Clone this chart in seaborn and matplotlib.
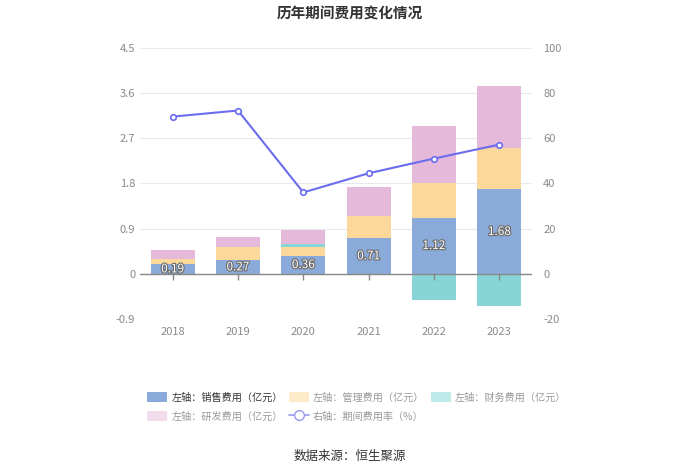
import numpy as np
import pandas as pd
import matplotlib
matplotlib.use("Agg")
import matplotlib.pyplot as plt
import matplotlib.patheffects as pe
from matplotlib.patches import Patch
from matplotlib.lines import Line2D
import seaborn as sns

# data
years = ["2018", "2019", "2020", "2021", "2022", "2023"]
sales = [0.19, 0.27, 0.36, 0.71, 1.12, 1.68]
admin = [0.10, 0.26, 0.18, 0.44, 0.69, 0.83]
finance = [0.01, 0.0, 0.05, 0.0, -0.53, -0.64]
rnd = [0.17, 0.21, 0.28, 0.58, 1.14, 1.24]
rate = [69.6, 72.3, 36.0, 44.5, 51.0, 57.2]

left_ticks = [-0.9, 0, 0.9, 1.8, 2.7, 3.6, 4.5]
left_labels = ["-0.9", "0", "0.9", "1.8", "2.7", "3.6", "4.5"]
right_ticks = [-20, 0, 20, 40, 60, 80, 100]

c_sales = "#8aaad9"
c_admin = "#fdd89b"
c_fin = "#87d5d6"
c_rnd = "#e5b9d9"
c_line = "#6b6cee"

sns.set_style("white")
plt.rcParams["font.family"] = ["Noto Sans CJK SC", "DejaVu Sans"]
plt.rcParams["axes.unicode_minus"] = False

df = pd.DataFrame({"year": years, "sales": sales, "admin": admin,
                   "finance": finance, "rnd": rnd, "rate": rate})
fin_pos = df["finance"].clip(lower=0)
fin_neg = df["finance"].clip(upper=0)
df["s1"] = df["sales"]
df["s2"] = df["s1"] + df["admin"]
df["s3"] = df["s2"] + fin_pos
df["s4"] = df["s3"] + df["rnd"]
df["neg"] = fin_neg

fig = plt.figure(figsize=(7, 4.73), dpi=100)
ax = fig.add_axes([0.2, 0.326, 0.56, 0.5725])

# stacked bars by overdrawing cumulative totals
for col, color in [("s4", c_rnd), ("s3", c_fin), ("s2", c_admin), ("s1", c_sales), ("neg", c_fin)]:
    sns.barplot(data=df, x="year", y=col, color=color, width=0.67,
                saturation=1, ax=ax, order=years, zorder=2, linewidth=0,
                edgecolor="none")

for i, v in enumerate(sales):
    ax.text(i, v / 2, f"{v:.2f}", ha="center", va="center", fontsize=8.5,
            color="white", zorder=5,
            path_effects=[pe.withStroke(linewidth=1.6, foreground="#6a6a6a")])

ax.set_xlim(-0.5, 5.5)
ax.set_ylim(-0.9, 4.5)
ax.set_yticks(left_ticks)
ax.set_yticklabels(left_labels)
ax.set_xlabel("")
ax.set_ylabel("")
ax.grid(axis="y", color="#e6e9f0", linewidth=0.8, zorder=0)
ax.set_axisbelow(True)
for s in ax.spines.values():
    s.set_visible(False)
ax.axhline(0, color="#888888", linewidth=1, zorder=3)
ax.plot(range(len(years)), [0] * len(years), linestyle="none", marker=3,
        markersize=4, color="#888888", zorder=3)
ax.tick_params(axis="both", length=0, colors="#8a8a8a", labelsize=8)
ax.tick_params(axis="x", pad=6)

ax2 = ax.twinx()
sns.lineplot(x=np.arange(len(years)), y=rate, ax=ax2, color=c_line,
             linewidth=1.5, marker="o", markersize=4, markerfacecolor="white",
             markeredgecolor=c_line, markeredgewidth=1.2, zorder=6)
ax2.set_ylim(-20, 100)
ax2.set_yticks(right_ticks)
ax2.tick_params(axis="y", length=0, colors="#8a8a8a", labelsize=8, pad=8)
for s in ax2.spines.values():
    s.set_visible(False)
ax2.grid(False)

fig.text(0.5, 0.972, "历年期间费用变化情况", ha="center", va="center",
         fontsize=10.5, fontweight="bold", color="#333333")
fig.text(0.5, 0.036, "数据来源：恒生聚源", ha="center", va="center",
         fontsize=9, color="#333333")

h_sales = Patch(facecolor=c_sales, edgecolor="none")
h_admin = Patch(facecolor="#feebc9", edgecolor="none")
h_fin = Patch(facecolor="#bfeaea", edgecolor="none")
h_rnd = Patch(facecolor="#f2dcec", edgecolor="none")
h_rate = Line2D([0], [0], color="#9a9af0", marker="o", markersize=7,
                markerfacecolor="white", markeredgecolor="#9a9af0", linewidth=1.2)
handles = [h_sales, h_rnd, h_admin, h_rate, h_fin]
labels = ["左轴：销售费用（亿元）", "左轴：研发费用（亿元）", "左轴：管理费用（亿元）",
          "右轴：期间费用率（%）", "左轴：财务费用（亿元）"]
leg = fig.legend(handles, labels, ncol=3, loc="upper left",
                 bbox_to_anchor=(0.197, 0.19), bbox_transform=fig.transFigure,
                 frameon=False, fontsize=7.3, handlelength=2.0, handleheight=1.1,
                 columnspacing=0.6, labelspacing=0.85, handletextpad=0.4)
for t in leg.get_texts():
    t.set_color("#999999")
leg.get_texts()[0].set_color("#333333")

fig.savefig("out.png", dpi=100)
